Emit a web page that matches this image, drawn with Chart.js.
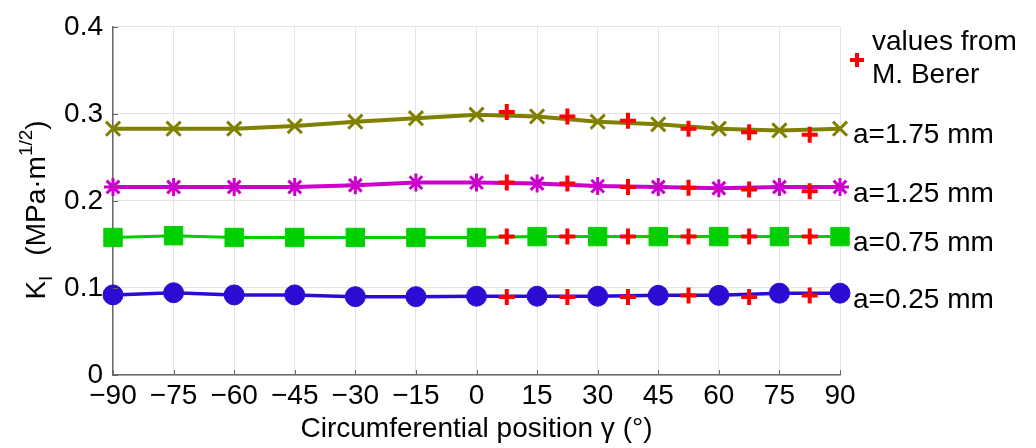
<!DOCTYPE html>
<html lang="en">
<head>
<meta charset="UTF-8" />
<title>K_I along the crack front</title>
<script src="https://cdn.jsdelivr.net/npm/chart.js@4.4.0/dist/chart.umd.min.js"></script>
<style>
  body { margin:0; background:#ffffff; }
  #box { width:1036px; height:448px; }
</style>
</head>
<body>
<div id="box"><canvas id="ki_chart"></canvas></div>
<script>
// circumferential position (deg) of the FE results
const posDeg = [-90, -75, -60, -45, -30, -15, 0, 15, 30, 45, 60, 75, 90];
// K_I in MPa*m^1/2 for each crack depth
const ki175 = [0.283, 0.283, 0.283, 0.286, 0.291, 0.295, 0.299, 0.297, 0.291, 0.288, 0.283, 0.281, 0.283];
const ki125 = [0.216, 0.216, 0.216, 0.216, 0.218, 0.221, 0.221, 0.220, 0.217, 0.216, 0.2145, 0.216, 0.216];
const ki075 = [0.158, 0.160, 0.158, 0.158, 0.158, 0.158, 0.158, 0.159, 0.159, 0.159, 0.159, 0.159, 0.159];
const ki025 = [0.092, 0.0945, 0.092, 0.092, 0.090, 0.090, 0.0905, 0.0905, 0.0905, 0.0915, 0.0915, 0.094, 0.094];
// values from M. Berer
const bererDeg = [7.5, 22.5, 37.5, 52.5, 67.5, 82.5];
const berer175 = [0.302, 0.297, 0.292, 0.283, 0.279, 0.276];
const berer125 = [0.221, 0.220, 0.216, 0.215, 0.213, 0.211];
const berer075 = [0.159, 0.159, 0.159, 0.159, 0.159, 0.159];
const berer025 = [0.0895, 0.0895, 0.0895, 0.0914, 0.0895, 0.0914];

const seriesNames = ['a=1.75 mm', 'a=1.25 mm', 'a=0.75 mm', 'a=0.25 mm'];
const bererName = ['values from', 'M. Berer'];
const yTickLabels = ['0', '0.1', '0.2', '0.3', '0.4'];
const xTitle = 'Circumferential position \u03b3 (\u00b0)';

const FONT = '"Liberation Sans", Arial, sans-serif';

function pts(xArr, yArr) {
  return xArr.map((x, i) => ({ x: x, y: yArr[i] }));
}

const lineSeries = [
  { data: ki175, color: '#808000', style: 'crossRot', r: 10, bw: 3, lw: 4 },
  { data: ki125, color: '#cc00cc', style: 'star', r: 9, bw: 3, lw: 4 },
  { data: ki075, color: '#00d000', style: 'rect', r: 13, bw: 1, lw: 3 },
  { data: ki025, color: '#2a0cd2', style: 'circle', r: 10, bw: 1, lw: 3.5 }
];

const datasets = lineSeries.map((s, i) => ({
  label: seriesNames[i],
  data: pts(posDeg, s.data),
  borderColor: s.color,
  backgroundColor: s.color,
  borderWidth: s.lw,
  pointStyle: s.style,
  pointRadius: s.r,
  pointBorderWidth: s.bw,
  pointBorderColor: s.color,
  pointBackgroundColor: s.color,
  tension: 0,
  clip: false,
  order: 1
}));

datasets.push({
  label: 'values from M. Berer',
  data: pts(bererDeg, berer175).concat(pts(bererDeg, berer125), pts(bererDeg, berer075), pts(bererDeg, berer025)),
  showLine: false,
  pointStyle: 'cross',
  pointRadius: 8,
  pointBorderWidth: 4,
  pointBorderColor: '#ff0000',
  pointBackgroundColor: '#ff0000',
  clip: false,
  order: 0
});

// y title with sub/superscript, labels at the line ends, inward ticks
const annotate = {
  id: 'annotate',
  afterDraw(chart) {
    const ctx = chart.ctx;
    const area = chart.chartArea;
    const xs = chart.scales.x, ys = chart.scales.y;
    ctx.save();

    // small inward tick marks
    ctx.strokeStyle = '#666666';
    ctx.lineWidth = 1;
    ctx.beginPath();
    xs.ticks.forEach(t => {
      const px = Math.round(xs.getPixelForValue(t.value)) + 0.5;
      ctx.moveTo(px, area.bottom);
      ctx.lineTo(px, area.bottom - 5);
    });
    ys.ticks.forEach(t => {
      const py = Math.round(ys.getPixelForValue(t.value)) + 0.5;
      ctx.moveTo(area.left, py);
      ctx.lineTo(area.left + 5, py);
    });
    ctx.stroke();

    // rotated y title
    ctx.fillStyle = '#000000';
    ctx.textBaseline = 'alphabetic';
    ctx.textAlign = 'left';
    const big = '28px ' + FONT, small = '19px ' + FONT;
    const parts = [
      { t: 'K', f: big, dy: 0 },
      { t: 'I', f: small, dy: 7 },
      { t: '', f: big, dy: 0, gap: 20 },
      { t: '(MPa\u00b7m', f: big, dy: 0 },
      { t: '1/2', f: small, dy: -13 },
      { t: ')', f: big, dy: 0 }
    ];
    let total = 0;
    parts.forEach(p => { ctx.font = p.f; p.w = (p.gap || 0) + ctx.measureText(p.t).width; total += p.w; });
    ctx.translate(45, 210);
    ctx.rotate(-Math.PI / 2);
    let cx = -total / 2;
    parts.forEach(p => {
      ctx.font = p.f;
      ctx.fillText(p.t, cx + (p.gap || 0), p.dy);
      cx += p.w;
    });
    ctx.setTransform(1, 0, 0, 1, 0, 0);

    // series labels next to the last points
    ctx.font = '28px ' + FONT;
    ctx.textBaseline = 'middle';
    ctx.fillStyle = '#000000';
    lineSeries.forEach((s, i) => {
      const py = ys.getPixelForValue(s.data[s.data.length - 1]) + 7;
      ctx.fillText(seriesNames[i], area.right + 13, py);
    });

    // M. Berer key
    ctx.fillText(bererName[0], area.right + 32, 42);
    ctx.fillText(bererName[1], area.right + 32, 75);
    ctx.strokeStyle = '#ff0000';
    ctx.lineWidth = 4;
    ctx.beginPath();
    ctx.moveTo(area.right + 10, 60); ctx.lineTo(area.right + 24, 60);
    ctx.moveTo(area.right + 17, 53); ctx.lineTo(area.right + 17, 67);
    ctx.stroke();

    ctx.restore();
  }
};

const kiChart = new Chart(document.getElementById('ki_chart'), {
  type: 'line',
  data: { datasets: datasets },
  options: {
    responsive: true,
    maintainAspectRatio: false,
    animation: false,
    layout: { padding: { top: 25, right: 196, left: 0, bottom: 0 } },
    plugins: { legend: { display: false }, tooltip: { enabled: false } },
    scales: {
      x: {
        type: 'linear',
        min: -90, max: 90,
        ticks: {
          stepSize: 15,
          padding: 4,
          color: '#000000',
          font: { family: FONT, size: 28 },
          maxRotation: 0,
          autoSkip: false,
          callback: v => (v < 0 ? '\u2212' + (-v) : '' + v)
        },
        grid: { color: '#e4e4e4', lineWidth: 1, drawTicks: false },
        border: { color: '#6a6a6a', width: 1.5 },
        title: {
          display: true,
          text: xTitle,
          color: '#000000',
          font: { family: FONT, size: 28, lineHeight: 1 },
          padding: { top: 0, bottom: 5 }
        },
        afterFit: s => { s.height = 73; }
      },
      y: {
        min: 0, max: 0.4,
        ticks: {
          stepSize: 0.1,
          padding: 10,
          color: '#000000',
          font: { family: FONT, size: 28 },
          callback: (v, i) => yTickLabels[i]
        },
        grid: { color: '#e4e4e4', lineWidth: 1, drawTicks: false },
        border: { color: '#6a6a6a', width: 1.5 },
        afterFit: s => { s.width = 113; }
      }
    }
  },
  plugins: [annotate]
});
</script>
</body>
</html>
